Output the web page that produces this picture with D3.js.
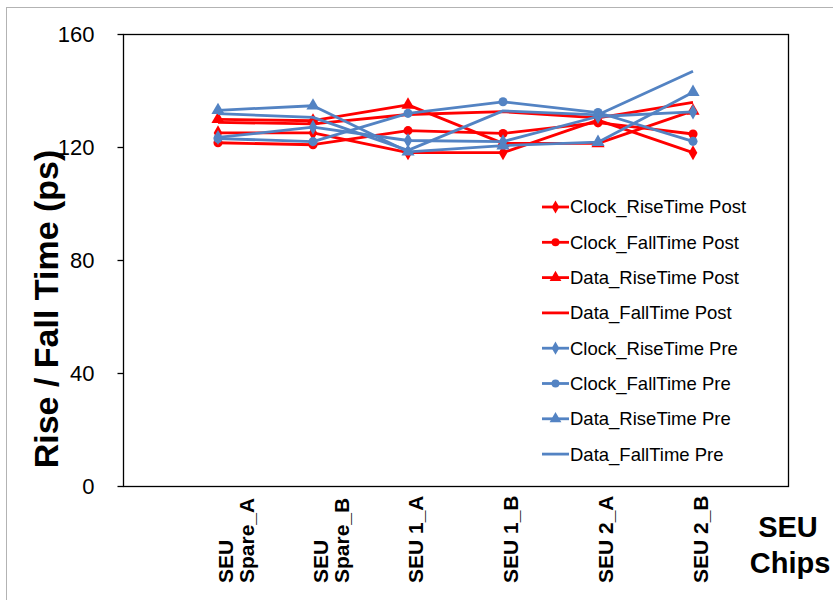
<!DOCTYPE html>
<html>
<head>
<meta charset="utf-8">
<script src="https://cdn.jsdelivr.net/npm/d3@7"></script>
<style>
  body { margin: 0; background: #fff; }
  svg { display: block; }
</style>
</head>
<body>
<div id="chart"></div>
<script>
// chips on the x axis (label lines as drawn, rotated)
const chips = [["SEU", "Spare_A"], ["SEU", "Spare_B"], ["SEU 1_A"], ["SEU 1_B"], ["SEU 2_A"], ["SEU 2_B"]];

// rise / fall times in ps
const clockRisePost = [125, 125, 118, 118, 129.5, 118];
const clockFallPost = [121.5, 120.8, 125.8, 124.8, 128.6, 124.6];
const dataRisePost = [129.8, 129.3, 134.9, 121.3, 121.3, 132.8];
const dataFallPost = [128.7, 128.2, 131.5, 132.5, 130.3, 135.8];
const clockRisePre = [123.4, 127, 122.3, 121.9, 130.8, 132.4];
const clockFallPre = [123, 121.9, 131.9, 136, 132.2, 122];
const dataRisePre = [133, 134.6, 118.3, 120.5, 121.7, 139.4];
const dataFallPre = [131.8, 130.5, 118.8, 132.8, 131.4, 146.8];

const yTicks = [0, 40, 80, 120, 160];

const RED = "#ff0000", BLUE = "#5383c3";

const series = [
  { name: "Clock_RiseTime Post", values: clockRisePost, color: RED, marker: d3.symbolDiamond },
  { name: "Clock_FallTime Post", values: clockFallPost, color: RED, marker: d3.symbolCircle },
  { name: "Data_RiseTime Post", values: dataRisePost, color: RED, marker: d3.symbolTriangle },
  { name: "Data_FallTime Post", values: dataFallPost, color: RED, marker: null },
  { name: "Clock_RiseTime Pre", values: clockRisePre, color: BLUE, marker: d3.symbolDiamond },
  { name: "Clock_FallTime Pre", values: clockFallPre, color: BLUE, marker: d3.symbolCircle },
  { name: "Data_RiseTime Pre", values: dataRisePre, color: BLUE, marker: d3.symbolTriangle },
  { name: "Data_FallTime Pre", values: dataFallPre, color: BLUE, marker: null }
];

const width = 833, height = 600;
const plot = { left: 123, right: 788, top: 34, bottom: 486 };

const svg = d3.select("#chart").append("svg")
  .attr("width", width).attr("height", height);

// outer chart border
svg.append("rect")
  .attr("x", 6.5).attr("y", 7.5)
  .attr("width", 840).attr("height", 610)
  .attr("fill", "#fff").attr("stroke", "#b3b3b3");

// categories sit at 1..6 with one empty slot each side
const x = d3.scaleLinear().domain([0, chips.length + 1]).range([plot.left, plot.right]);
const y = d3.scaleLinear().domain([0, 160]).range([plot.bottom, plot.top]);

svg.append("rect")
  .attr("x", plot.left + 0.5).attr("y", plot.top + 0.5)
  .attr("width", plot.right - plot.left).attr("height", plot.bottom - plot.top)
  .attr("fill", "none").attr("stroke", "#000").attr("stroke-width", 1.3);

const yAxis = svg.append("g")
  .attr("transform", `translate(${plot.left + 0.5},0)`)
  .call(d3.axisLeft(y).tickValues(yTicks).tickSize(6).tickPadding(23));
yAxis.select(".domain").remove();
yAxis.selectAll("line").attr("stroke", "#000").attr("stroke-width", 1.3);
yAxis.selectAll("text")
  .attr("font-family", "Liberation Sans, Arial, sans-serif")
  .attr("font-size", 22).attr("fill", "#000");

svg.append("text")
  .attr("transform", "translate(58,309) rotate(-90)")
  .attr("text-anchor", "middle")
  .attr("font-family", "Liberation Sans, Arial, sans-serif")
  .attr("font-weight", "bold").attr("font-size", 34)
  .text("Rise / Fall Time (ps)");

// x category labels, rotated
const labelGroup = svg.append("g")
  .attr("font-family", "Liberation Sans, Arial, sans-serif")
  .attr("font-weight", "bold").attr("font-size", 21);
chips.forEach((lines, i) => {
  lines.forEach((line, j) => {
    const cx = x(i + 1) + 8 + j * 21;
    labelGroup.append("text")
      .attr("transform", `translate(${cx + 7},583) rotate(-90)`)
      .attr("text-anchor", "start")
      .text(line);
  });
});

const titleX = svg.append("text")
  .attr("font-family", "Liberation Sans, Arial, sans-serif")
  .attr("font-weight", "bold").attr("font-size", 29)
  .attr("text-anchor", "middle");
titleX.append("tspan").attr("x", 788).attr("y", 537).text("SEU");
titleX.append("tspan").attr("x", 790).attr("y", 573).text("Chips");

const line = d3.line()
  .x((d, i) => x(i + 1))
  .y(d => y(d));

const lines = svg.append("g");
series.forEach(s => {
  const g = lines.append("g");
  g.append("path")
    .attr("d", line(s.values))
    .attr("fill", "none")
    .attr("stroke", s.color)
    .attr("stroke-width", 2.8)
    .attr("stroke-linejoin", "round");
  if (s.marker) {
    g.selectAll("path.mark")
      .data(s.values)
      .join("path")
      .attr("class", "mark")
      .attr("transform", (d, i) => `translate(${x(i + 1)},${y(d)})`)
      .attr("d", d3.symbol().type(s.marker).size(s.marker === d3.symbolTriangle ? 75 : 65))
      .attr("fill", s.color);
  }
});

// legend
const legend = svg.append("g")
  .attr("font-family", "Liberation Sans, Arial, sans-serif")
  .attr("font-size", 18.5);
series.forEach((s, i) => {
  const ly = 207 + i * 35.3;
  const row = legend.append("g").attr("transform", `translate(542,${ly})`);
  row.append("line")
    .attr("x1", 0).attr("x2", 27)
    .attr("stroke", s.color).attr("stroke-width", 2.8);
  if (s.marker) {
    row.append("path")
      .attr("transform", "translate(13.5,0)")
      .attr("d", d3.symbol().type(s.marker).size(s.marker === d3.symbolTriangle ? 60 : 50))
      .attr("fill", s.color);
  }
  row.append("text")
    .attr("x", 28).attr("dy", "0.35em")
    .text(s.name);
});
</script>
</body>
</html>
